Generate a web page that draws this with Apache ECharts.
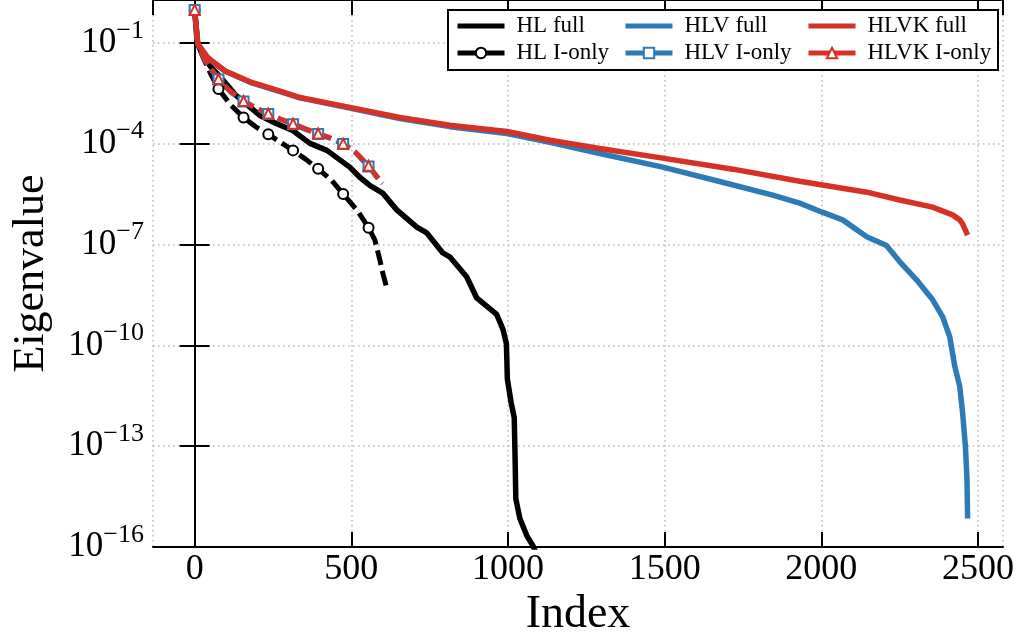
<!DOCTYPE html>
<html><head><meta charset="utf-8">
<script src="https://cdn.jsdelivr.net/npm/echarts@6/dist/echarts.min.js"></script>
<style>html,body{margin:0;padding:0;background:#fff}#c{width:1022px;height:643px}</style>
</head><body><div id="c"></div>
<script>
const FONT = 'Liberation Serif';
const seriesNames = ['HL full', 'HL I-only', 'HLV full', 'HLV I-only', 'HLVK full', 'HLVK I-only'];
const xTickLabels = [0, 500, 1000, 1500, 2000, 2500];
const yTickExponents = [-16, -13, -10, -7, -4, -1];
const markerIdx = [0, 76, 156, 235, 314, 394, 474, 555];

const hlFullIdx = [0, 8, 25, 50, 80, 130, 208, 260, 313, 368, 422, 495, 527, 560, 600, 645, 709, 741, 792, 814, 868, 900, 964, 984, 995, 998, 1010, 1020, 1023, 1025, 1038, 1060, 1079, 1101];
const hlFullVal = [9.5e-1, 1.0e-1, 4.47e-2, 2.0e-2, 1.0e-2, 2.82e-3, 6.9e-4, 3.98e-4, 2.45e-4, 1.02e-4, 6.3e-5, 2.0e-5, 1.0e-5, 5.6e-6, 3.4e-6, 1.07e-6, 3.3e-7, 2.2e-7, 5.6e-8, 4.3e-8, 1.1e-8, 2.6e-9, 8.3e-10, 3.0e-10, 1.12e-10, 1.0e-11, 2.0e-12, 7.1e-13, 3.16e-14, 2.75e-15, 7.1e-16, 2.2e-16, 1.12e-16, 4.0e-17];

const hlIonlyIdx = [0, 10, 30, 50, 76, 115, 156, 195, 235, 273, 314, 355, 394, 438, 474, 520, 555, 575, 591, 600, 613];
const hlIonlyVal = [9.5e-1, 8.9e-2, 3.16e-2, 1.26e-2, 4.2e-3, 1.41e-3, 6.0e-4, 3.16e-4, 1.9e-4, 1.1e-4, 6.3e-5, 3.4e-5, 1.78e-5, 7.9e-6, 3.16e-6, 1.0e-6, 3.16e-7, 1.38e-7, 3.5e-8, 1.45e-8, 5.2e-9];

const hlvFullIdx = [0, 10, 42, 96, 182, 288, 336, 495, 655, 814, 997, 1134, 1293, 1494, 1685, 1845, 1931, 2001, 2068, 2145, 2208, 2250, 2304, 2355, 2387, 2410, 2426, 2442, 2451, 2460, 2465, 2467];
const hlvFullVal = [9.5e-1, 9.1e-2, 3.5e-2, 1.45e-2, 6.4e-3, 3.2e-3, 2.3e-3, 1.15e-3, 5.6e-4, 3.2e-4, 2.0e-4, 1.1e-4, 5.1e-5, 2.0e-5, 7.1e-6, 2.95e-6, 1.7e-6, 9.3e-7, 5.4e-7, 1.7e-7, 9.3e-8, 3.1e-8, 8.9e-9, 2.3e-9, 7.2e-10, 1.8e-10, 2.4e-11, 6.0e-12, 1.0e-12, 1.0e-13, 1.07e-14, 7.1e-16];

const hlvIonlyIdx = [0, 10, 35, 76, 115, 156, 195, 235, 272, 314, 352, 394, 433, 474, 513, 555, 575, 598];
const hlvIonlyVal = [9.5e-1, 9.1e-2, 2.7e-2, 8.1e-3, 3.4e-3, 1.8e-3, 1.12e-3, 7.6e-4, 5.3e-4, 3.8e-4, 2.7e-4, 1.92e-4, 1.42e-4, 9.7e-5, 5.4e-5, 2.1e-5, 1.2e-5, 6.4e-6];

const hlvkFullIdx = [0, 10, 42, 96, 182, 288, 336, 495, 655, 814, 997, 1134, 1293, 1494, 1718, 1931, 2145, 2250, 2355, 2419, 2442, 2451, 2467];
const hlvkFullVal = [9.5e-1, 9.3e-2, 3.6e-2, 1.48e-2, 6.6e-3, 3.3e-3, 2.35e-3, 1.2e-3, 6.0e-4, 3.5e-4, 2.3e-4, 1.26e-4, 7.2e-5, 3.7e-5, 1.74e-5, 7.6e-6, 3.6e-6, 2.1e-6, 1.29e-6, 7.6e-7, 5.4e-7, 4.1e-7, 1.9e-7];

const hlvkIonlyIdx = [0, 10, 35, 76, 115, 156, 195, 235, 272, 314, 352, 394, 433, 474, 513, 555, 575, 600];
const hlvkIonlyVal = [9.5e-1, 9.3e-2, 2.8e-2, 8.3e-3, 3.55e-3, 1.86e-3, 1.17e-3, 7.9e-4, 5.5e-4, 3.9e-4, 2.8e-4, 2.0e-4, 1.48e-4, 1.0e-4, 5.6e-5, 2.2e-5, 1.26e-5, 6.6e-6];

const BLACK = '#000000', BLUE = '#2c7bb6', RED = '#d73027';
const LINE_ICON = 'path://M0,0L47,0L47,5L0,5Z';

function pts(idx, val, withMarkers) {
  return idx.map((x, i) => {
    if (!withMarkers || markerIdx.includes(x)) return [x, val[i]];
    return { value: [x, val[i]], symbol: 'none' };
  });
}
function fullSeries(name, idx, val, color) {
  return { name, type: 'line', data: pts(idx, val, false), symbol: 'none', clip: true,
    lineStyle: { color, width: 5.5 }, itemStyle: { color }, emphasis: { disabled: true } };
}
function ionlySeries(name, idx, val, color, sym) {
  return { name, type: 'line', data: pts(idx, val, true), symbol: sym, symbolSize: 10, showAllSymbol: true, clip: true,
    lineStyle: { color, width: 5, type: [15, 6] },
    itemStyle: { color: '#ffffff', borderColor: color, borderWidth: 2 }, emphasis: { disabled: true } };
}

const chart = echarts.init(document.getElementById('c'));
const legendBase = { orient: 'vertical', top: 13, padding: 0, itemWidth: 47, itemHeight: 13, itemGap: 1,
  selectedMode: false, z: 5, lineStyle: { type: 'solid', width: 5 },
  textStyle: { fontFamily: FONT, fontSize: 23, color: '#000', lineHeight: 26, padding: [0, 0, 0, 7] } };
const xCommon = { type: 'value', min: -133, max: 2580 };
const yCommon = { type: 'log', logBase: 10, min: 1e-16, max: 1.87, interval: 3 };
chart.setOption({
  animation: false,
  backgroundColor: '#fff',
  grid: { left: 153, right: 19, top: -1, bottom: 95, containLabel: false },
  xAxis: [
    Object.assign({}, xCommon, {
      position: 'bottom', name: 'Index', nameLocation: 'middle', nameGap: 44,
      nameTextStyle: { fontFamily: FONT, fontSize: 46, color: '#000' },
      axisLine: { show: true, lineStyle: { color: '#000', width: 2 } },
      axisTick: { show: true, inside: true, length: 15, lineStyle: { color: '#000', width: 2 } },
      axisLabel: { show: true, margin: 4, showMinLabel: false, showMaxLabel: false, fontFamily: FONT, fontSize: 36, color: '#000',
        formatter: v => (xTickLabels.includes(v) ? String(v) : '') },
      splitLine: { show: true, lineStyle: { color: '#b8b8b8', width: 1.5, type: [1.5, 3.5] } }
    }),
    Object.assign({}, xCommon, {
      position: 'top',
      axisLine: { show: true, lineStyle: { color: '#000', width: 2 } },
      axisTick: { show: true, inside: true, length: 15, lineStyle: { color: '#000', width: 2 } },
      axisLabel: { show: false }, splitLine: { show: false }
    })
  ],
  yAxis: [
    Object.assign({}, yCommon, {
      position: 'left', name: 'Eigenvalue', nameLocation: 'middle', nameGap: 100,
      nameTextStyle: { fontFamily: FONT, fontSize: 44, color: '#000' },
      axisLine: { show: true, lineStyle: { color: '#000', width: 2 } },
      axisTick: { show: true, inside: true, length: 15, lineStyle: { color: '#000', width: 2 } },
      minorTick: { show: false },
      axisLabel: { show: true, margin: 9, showMaxLabel: false, color: '#000',
        formatter: v => {
          const e = Math.round(Math.log10(v));
          if (!yTickExponents.includes(e)) return '';
          return '{b|10}{e|\u2212' + (-e) + '}';
        },
        rich: {
          b: { fontFamily: FONT, fontSize: 35, color: '#000' },
          e: { fontFamily: FONT, fontSize: 26, color: '#000', padding: [0, 0, 24, 0] }
        } },
      splitLine: { show: true, lineStyle: { color: '#b8b8b8', width: 1.5, type: [1.5, 3.5] } }
    }),
    Object.assign({}, yCommon, {
      position: 'right',
      axisLine: { show: true, lineStyle: { color: '#000', width: 2 } },
      axisTick: { show: true, inside: true, length: 15, lineStyle: { color: '#000', width: 2 } },
      axisLabel: { show: false }, splitLine: { show: false }
    })
  ],
  graphic: [{ type: 'rect', z: 3, shape: { x: 448, y: 10, width: 550, height: 60 },
    style: { fill: '#fff', stroke: '#000', lineWidth: 2 } }],
  legend: [
    Object.assign({}, legendBase, { left: 455, data: [{ name: 'HL full', icon: LINE_ICON }, 'HL I-only'] }),
    Object.assign({}, legendBase, { left: 623, data: [{ name: 'HLV full', icon: LINE_ICON }, 'HLV I-only'] }),
    Object.assign({}, legendBase, { left: 806, data: [{ name: 'HLVK full', icon: LINE_ICON }, 'HLVK I-only'] })
  ],
  series: [
    fullSeries(seriesNames[0], hlFullIdx, hlFullVal, BLACK),
    ionlySeries(seriesNames[1], hlIonlyIdx, hlIonlyVal, BLACK, 'circle'),
    fullSeries(seriesNames[2], hlvFullIdx, hlvFullVal, BLUE),
    ionlySeries(seriesNames[3], hlvIonlyIdx, hlvIonlyVal, BLUE, 'rect'),
    fullSeries(seriesNames[4], hlvkFullIdx, hlvkFullVal, RED),
    ionlySeries(seriesNames[5], hlvkIonlyIdx, hlvkIonlyVal, RED, 'triangle')
  ]
});
</script></body></html>
